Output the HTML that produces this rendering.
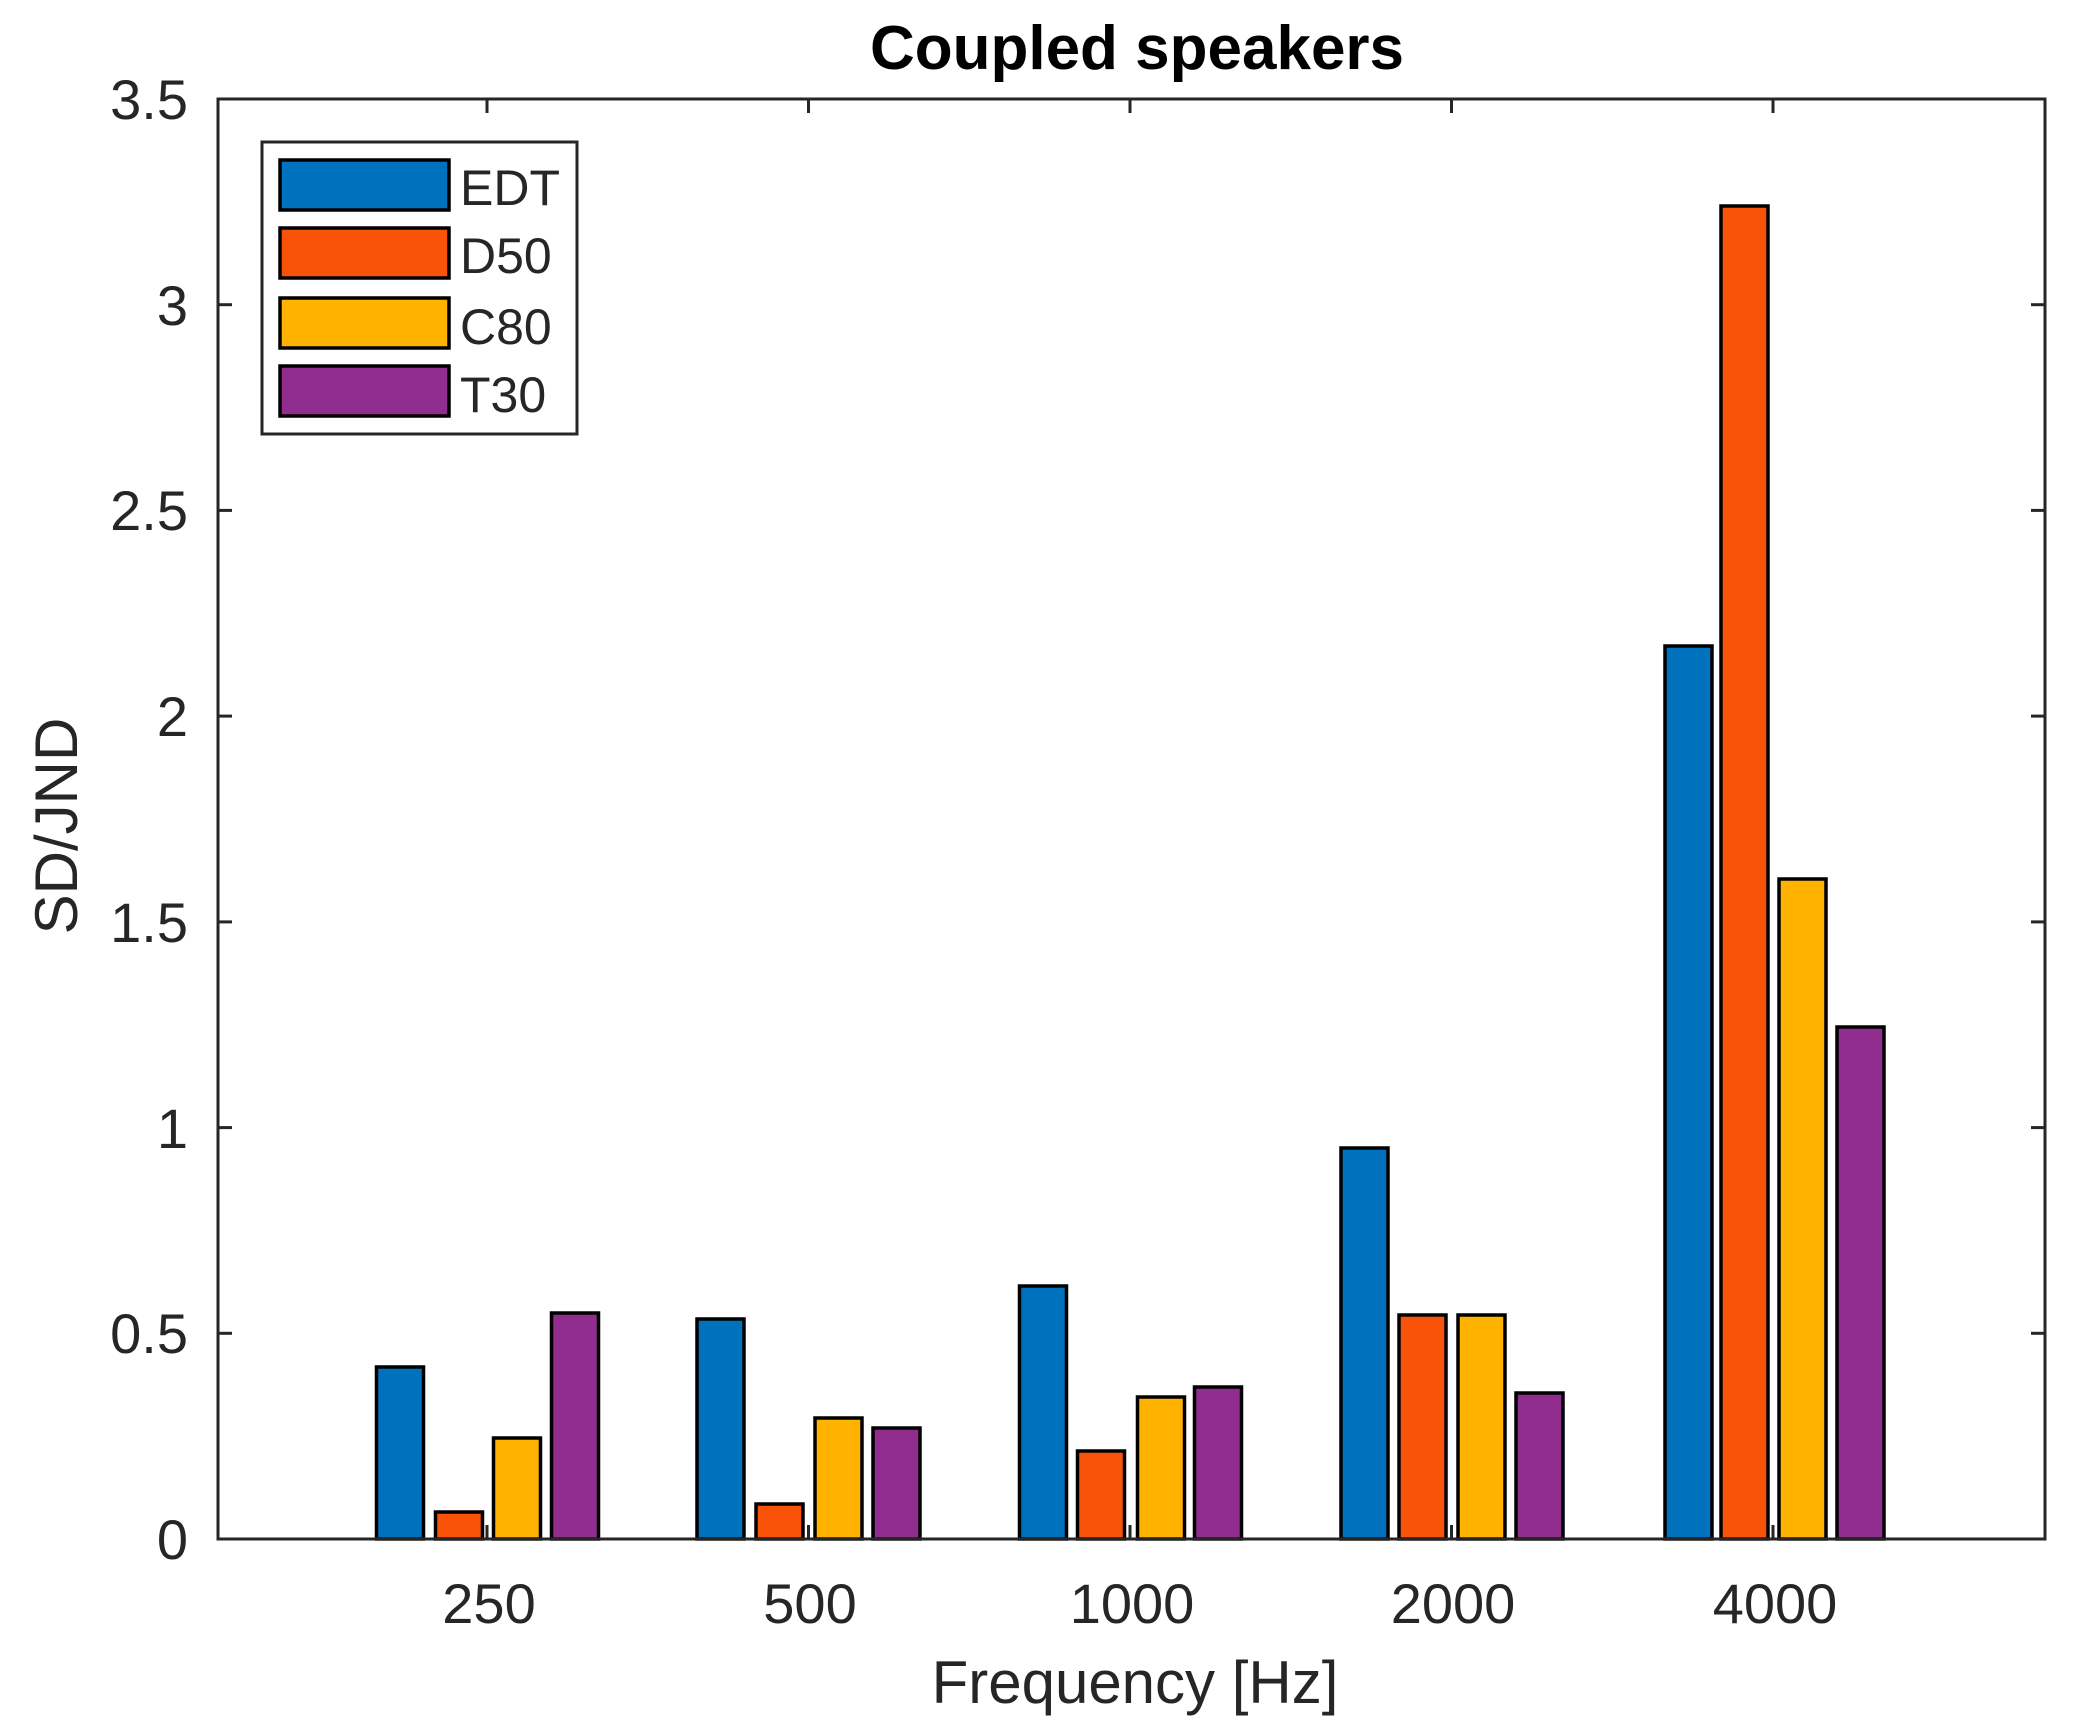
<!DOCTYPE html>
<html><head><meta charset="utf-8"><style>
html,body{margin:0;padding:0;background:#fff;}
svg{display:block;}
text{font-family:"Liberation Sans",Arial,sans-serif;fill:#262626;}
</style></head><body>
<svg width="2078" height="1735" viewBox="0 0 2078 1735" xmlns="http://www.w3.org/2000/svg">
<rect width="2078" height="1735" fill="#fff"/>
<g stroke="#000" stroke-width="3.5">
<rect x="376.5" y="1367" width="47" height="172" fill="#0072BD"/>
<rect x="435.5" y="1512" width="47" height="27" fill="#F9530A"/>
<rect x="493.5" y="1438" width="47" height="101" fill="#FFB200"/>
<rect x="551.5" y="1313" width="47" height="226" fill="#912D8E"/>
<rect x="697" y="1319" width="47" height="220" fill="#0072BD"/>
<rect x="756" y="1504" width="47" height="35" fill="#F9530A"/>
<rect x="815" y="1418" width="47" height="121" fill="#FFB200"/>
<rect x="873" y="1428" width="47" height="111" fill="#912D8E"/>
<rect x="1019.5" y="1286" width="47" height="253" fill="#0072BD"/>
<rect x="1077.5" y="1451" width="47" height="88" fill="#F9530A"/>
<rect x="1137.5" y="1397" width="47" height="142" fill="#FFB200"/>
<rect x="1194.5" y="1387" width="47" height="152" fill="#912D8E"/>
<rect x="1341" y="1148" width="47" height="391" fill="#0072BD"/>
<rect x="1399" y="1315" width="47" height="224" fill="#F9530A"/>
<rect x="1458" y="1315" width="47" height="224" fill="#FFB200"/>
<rect x="1516" y="1393" width="47" height="146" fill="#912D8E"/>
<rect x="1665" y="646" width="47" height="893" fill="#0072BD"/>
<rect x="1721" y="206" width="47" height="1333" fill="#F9530A"/>
<rect x="1779" y="879" width="47" height="660" fill="#FFB200"/>
<rect x="1837" y="1027" width="47" height="512" fill="#912D8E"/>
</g>
<rect x="218" y="99" width="1827" height="1440" fill="none" stroke="#262626" stroke-width="3"/>
<g stroke="#262626" stroke-width="3">
<line x1="487" y1="1539" x2="487" y2="1525"/><line x1="487" y1="99" x2="487" y2="113"/>
<line x1="808.5" y1="1539" x2="808.5" y2="1525"/><line x1="808.5" y1="99" x2="808.5" y2="113"/>
<line x1="1130" y1="1539" x2="1130" y2="1525"/><line x1="1130" y1="99" x2="1130" y2="113"/>
<line x1="1451.5" y1="1539" x2="1451.5" y2="1525"/><line x1="1451.5" y1="99" x2="1451.5" y2="113"/>
<line x1="1773" y1="1539" x2="1773" y2="1525"/><line x1="1773" y1="99" x2="1773" y2="113"/>
<line x1="218" y1="1333.3" x2="232" y2="1333.3"/><line x1="2045" y1="1333.3" x2="2031" y2="1333.3"/>
<line x1="218" y1="1127.6" x2="232" y2="1127.6"/><line x1="2045" y1="1127.6" x2="2031" y2="1127.6"/>
<line x1="218" y1="921.9" x2="232" y2="921.9"/><line x1="2045" y1="921.9" x2="2031" y2="921.9"/>
<line x1="218" y1="716.1" x2="232" y2="716.1"/><line x1="2045" y1="716.1" x2="2031" y2="716.1"/>
<line x1="218" y1="510.4" x2="232" y2="510.4"/><line x1="2045" y1="510.4" x2="2031" y2="510.4"/>
<line x1="218" y1="304.7" x2="232" y2="304.7"/><line x1="2045" y1="304.7" x2="2031" y2="304.7"/>
</g>
<g font-size="56" text-anchor="end">
<text x="188" y="1559">0</text>
<text x="188" y="1353">0.5</text>
<text x="188" y="1148">1</text>
<text x="188" y="942">1.5</text>
<text x="188" y="736">2</text>
<text x="188" y="530">2.5</text>
<text x="188" y="325">3</text>
<text x="188" y="119">3.5</text>
</g>
<g font-size="56" text-anchor="middle">
<text x="489" y="1623">250</text>
<text x="810" y="1623">500</text>
<text x="1132" y="1623">1000</text>
<text x="1453" y="1623">2000</text>
<text x="1775" y="1623">4000</text>
</g>
<text x="1135" y="1703" font-size="60" text-anchor="middle">Frequency [Hz]</text>
<text transform="translate(77,826) rotate(-90)" font-size="60" text-anchor="middle">SD/JND</text>
<text x="1137" y="69" font-size="62" font-weight="bold" text-anchor="middle" style="fill:#000">Coupled speakers</text>
<rect x="262" y="142" width="315" height="292" fill="#fff" stroke="#262626" stroke-width="3"/>
<g stroke="#000" stroke-width="3.5">
<rect x="280" y="160" width="169" height="50" fill="#0072BD"/>
<rect x="280" y="228" width="169" height="50" fill="#F9530A"/>
<rect x="280" y="298" width="169" height="50" fill="#FFB200"/>
<rect x="280" y="366" width="169" height="50" fill="#912D8E"/>
</g>
<g font-size="50">
<text x="460" y="205">EDT</text>
<text x="460" y="273">D50</text>
<text x="460" y="344">C80</text>
<text x="460" y="412">T30</text>
</g>
</svg>
</body></html>
